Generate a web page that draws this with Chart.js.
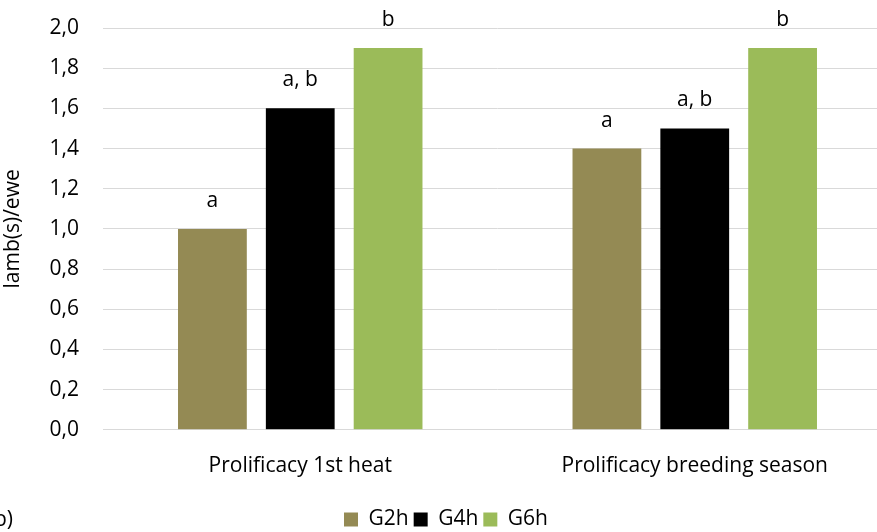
<!DOCTYPE html>
<html>
<head>
<meta charset="utf-8">
<script src="https://cdn.jsdelivr.net/npm/chart.js@4.4.1/dist/chart.umd.min.js"></script>
<style>
  html, body { margin: 0; padding: 0; background: #fff; overflow: hidden; }
  #wrap { position: relative; width: 892px; height: 532px; }
  #panel { position: absolute; left: -6px; top: 504px; font: 21px "Open Sans", sans-serif; color: #000; }
</style>
</head>
<body>
<div id="wrap">
  <canvas id="chart" width="892" height="532"></canvas>
  <div id="panel">b)</div>
</div>
<script>
const categories = ["Prolificacy 1st heat", "Prolificacy breeding season"];
const seriesNames = ["G2h", "G4h", "G6h"];
const g2h = [1.0, 1.4];
const g4h = [1.6, 1.5];
const g6h = [1.9, 1.9];
const letters = [["a", "a"], ["a, b", "a, b"], ["b", "b"]];
const colors = ["#948A54", "#000000", "#9BBB59"];

const fontFamily = "'Open Sans', 'Liberation Sans', sans-serif";
const fontSize = 21;

// letters of significance above each bar
const letterPlugin = {
    id: "letters",
    afterDatasetsDraw(chart) {
        const ctx = chart.ctx;
        ctx.save();
        ctx.font = fontSize + "px " + fontFamily;
        ctx.fillStyle = "#000";
        ctx.textAlign = "center";
        ctx.textBaseline = "middle";
        chart.data.datasets.forEach((ds, i) => {
            chart.getDatasetMeta(i).data.forEach((bar, j) => {
                ctx.fillText(letters[i][j], bar.x, bar.y - 28);
            });
        });
        ctx.restore();
    }
};

new Chart(document.getElementById("chart"), {
    type: "bar",
    data: {
        labels: categories,
        datasets: [g2h, g4h, g6h].map((vals, i) => ({
            label: seriesNames[i],
            data: vals,
            backgroundColor: colors[i],
            categoryPercentage: 0.668,
            barPercentage: 0.783
        }))
    },
    options: {
        responsive: false,
        animation: false,
        layout: { padding: { top: 28, right: 0, left: 0, bottom: -8 } },
        plugins: {
            legend: {
                position: "bottom",
                labels: {
                    boxWidth: 14,
                    boxHeight: 14,
                    padding: 5,
                    color: "#000",
                    font: { family: fontFamily, size: fontSize }
                }
            },
            tooltip: { enabled: false }
        },
        scales: {
            x: {
                afterFit(scale) { scale.height += 9; },
                grid: { display: false },
                border: { color: "#D9D9D9", width: 1 },
                ticks: {
                    color: "#000",
                    padding: 16,
                    font: { family: fontFamily, size: fontSize }
                }
            },
            y: {
                min: 0,
                max: 2,
                afterFit(scale) {
                    scale.width = 103;
                    scale.paddingTop = 0;
                    scale.paddingBottom = 0;
                },
                border: { display: false },
                grid: { color: "#D9D9D9", lineWidth: 1, drawTicks: false },
                ticks: {
                    stepSize: 0.2,
                    padding: 24,
                    color: "#000",
                    font: { family: fontFamily, size: fontSize },
                    callback: v => v.toFixed(1).replace(".", ",")
                },
                title: {
                    display: true,
                    text: "lamb(s)/ewe",
                    color: "#000",
                    padding: { top: 0, bottom: 0 },
                    font: { family: fontFamily, size: fontSize }
                }
            }
        }
    },
    plugins: [letterPlugin]
});
</script>
</body>
</html>
